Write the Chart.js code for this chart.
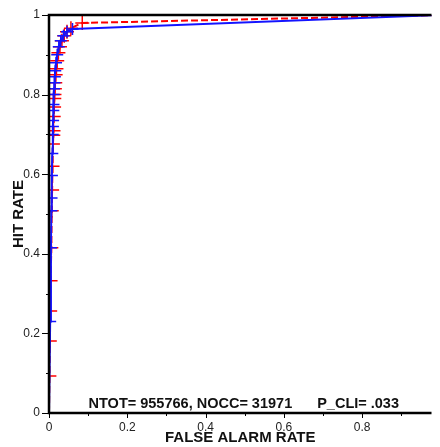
<!DOCTYPE html>
<html>
<head>
<meta charset="utf-8">
<script src="https://cdn.jsdelivr.net/npm/chart.js@4"></script>
<style>
  html, body { margin: 0; padding: 0; background: #fff; }
  #wrap { width: 440px; height: 447px; }
</style>
</head>
<body>
<div id="wrap"><canvas id="roc"></canvas></div>
<script>
// ROC curve values
const redFar = [0, 0.001, 0.002, 0.003, 0.004, 0.006, 0.007, 0.008, 0.009, 0.010, 0.011, 0.0115, 0.012, 0.013, 0.0135, 0.014, 0.015, 0.016, 0.017, 0.019, 0.021, 0.024, 0.028, 0.033, 0.039, 0.046, 0.056, 0.085, 1];
const redHit = [0, 0.093, 0.181, 0.256, 0.332, 0.415, 0.508, 0.56, 0.62, 0.676, 0.698, 0.709, 0.745, 0.769, 0.79, 0.80, 0.815, 0.83, 0.85, 0.865, 0.885, 0.905, 0.92, 0.935, 0.948, 0.958, 0.967, 0.98, 1];

const blueFar = [0, 0.003, 0.005, 0.006, 0.0065, 0.0075, 0.0085, 0.0095, 0.010, 0.0105, 0.011, 0.0115, 0.012, 0.013, 0.014, 0.015, 0.016, 0.018, 0.021, 0.025, 0.030, 0.037, 0.046, 0.060, 1];
const blueHit = [0, 0.23, 0.415, 0.508, 0.54, 0.597, 0.652, 0.70, 0.72, 0.735, 0.76, 0.775, 0.80, 0.815, 0.83, 0.845, 0.86, 0.88, 0.90, 0.92, 0.935, 0.948, 0.958, 0.965, 1];

const statsLeft = 'NTOT= 955766, NOCC= 31971';
const statsRight = 'P_CLI= .033';
const xTitle = 'FALSE ALARM RATE';
const yTitle = 'HIT RATE';

const FONT = "'Liberation Sans', Arial, Helvetica, sans-serif";

function toPoints(xs, ys) {
    return xs.map((x, i) => ({ x: x, y: ys[i] }));
}

// frame, minor/major tick marks and the stats line
const decorations = {
    id: 'decorations',
    afterDraw(chart) {
        const ctx = chart.ctx;
        const area = chart.chartArea;
        const xs = chart.scales.x;
        const ys = chart.scales.y;
        ctx.save();
        ctx.strokeStyle = '#000';

        // tick marks every 0.1, longer on labelled ones
        ctx.lineWidth = 1;
        for (let i = 0; i <= 10; i++) {
            const v = i / 10;
            const len = i % 2 === 0 ? 7 : 3;
            const py = Math.round(ys.getPixelForValue(v)) + 0.5;
            ctx.beginPath();
            ctx.moveTo(area.left - len, py);
            ctx.lineTo(area.left, py);
            ctx.stroke();
            if (v <= xs.max) {
                const px = Math.round(xs.getPixelForValue(v)) + 0.5;
                ctx.beginPath();
                ctx.moveTo(px, area.bottom);
                ctx.lineTo(px, area.bottom + (i % 2 === 0 ? 5 : 3));
                ctx.stroke();
            }
        }

        // axes and top line
        ctx.lineWidth = 2.5;
        ctx.beginPath();
        ctx.moveTo(area.right, area.top);
        ctx.lineTo(area.left, area.top);
        ctx.lineTo(area.left, area.bottom);
        ctx.lineTo(area.right, area.bottom);
        ctx.stroke();

        // stats text
        ctx.fillStyle = '#111';
        ctx.font = 'bold 14.5px ' + FONT;
        ctx.textBaseline = 'alphabetic';
        ctx.textAlign = 'left';
        ctx.fillText(statsLeft, xs.getPixelForValue(0.101), area.bottom - 5);
        ctx.fillText(statsRight, xs.getPixelForValue(0.685), area.bottom - 5);
        ctx.restore();
    }
};

const ctx = document.getElementById('roc').getContext('2d');
const chart = new Chart(ctx, {
    type: 'line',
    data: {
        datasets: [
            {
                label: 'blue',
                data: toPoints(blueFar, blueHit),
                borderColor: 'rgb(20, 20, 255)',
                backgroundColor: 'rgb(20, 20, 255)',
                borderWidth: 2,
                pointStyle: 'cross',
                pointRadius: 6,
                pointBorderWidth: 1.5,
                tension: 0,
                fill: false
            },
            {
                label: 'red',
                data: toPoints(redFar, redHit),
                borderColor: 'rgb(255, 0, 0)',
                backgroundColor: 'rgb(255, 0, 0)',
                borderWidth: 2,
                borderDash: [7, 3],
                pointStyle: 'cross',
                pointRadius: 7,
                pointBorderWidth: 1.5,
                tension: 0,
                fill: false
            }
        ]
    },
    options: {
        responsive: true,
        maintainAspectRatio: false,
        animation: false,
        layout: { padding: { top: 15, right: 0, left: 0, bottom: 0 } },
        plugins: {
            legend: { display: false },
            tooltip: { enabled: false }
        },
        scales: {
            x: {
                type: 'linear',
                min: 0,
                max: 0.977,
                border: { display: false },
                grid: { display: false, drawTicks: true, tickLength: 5 },
                ticks: {
                    stepSize: 0.2,
                    includeBounds: false,
                    maxRotation: 0,
                    minRotation: 0,
                    padding: 2,
                    color: '#222',
                    font: { family: FONT, size: 12 },
                    callback: (value) => String(+value.toFixed(1))
                },
                title: {
                    display: true,
                    text: xTitle,
                    color: '#111',
                    padding: { top: 0, bottom: 0 },
                    font: { family: FONT, size: 15, weight: 'bold' }
                },
                afterFit: (scale) => { scale.height = 34; }
            },
            y: {
                type: 'linear',
                min: 0,
                max: 1,
                border: { display: false },
                grid: { display: false, drawTicks: true, tickLength: 7 },
                ticks: {
                    stepSize: 0.2,
                    padding: 2,
                    color: '#222',
                    font: { family: FONT, size: 12 },
                    callback: (value) => String(+value.toFixed(1))
                },
                title: {
                    display: true,
                    text: yTitle,
                    color: '#111',
                    padding: { top: 10, bottom: 0 },
                    font: { family: FONT, size: 15, weight: 'bold' }
                },
                afterFit: (scale) => { scale.width = 49; }
            }
        }
    },
    plugins: [decorations]
});
</script>
</body>
</html>
